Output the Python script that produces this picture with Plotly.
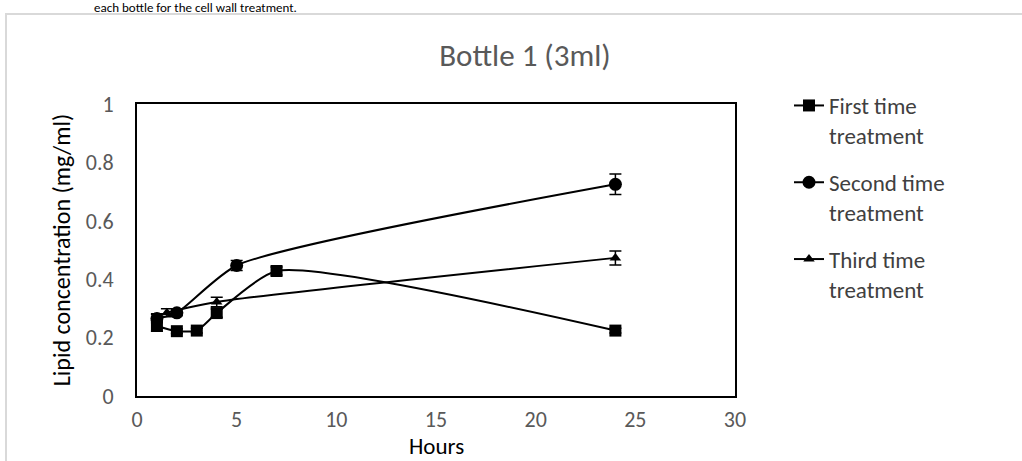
import plotly.graph_objects as go

# Lipid concentration (mg/ml) over time (hours), three treatment rounds
first_hours = [1, 2, 3, 4, 7, 24]
first_lipid = [0.24, 0.222, 0.224, 0.284, 0.428, 0.224]
first_err = [0.018, 0.008, 0.008, 0.014, 0.014, 0.008]

second_hours = [1, 2, 5, 24]
second_lipid = [0.265, 0.285, 0.447, 0.725]
second_err = [0.014, 0.01, 0.017, 0.035]

third_hours = [1, 1.5, 4, 24]
third_lipid = [0.27, 0.285, 0.322, 0.473]
third_err = [0.012, 0.014, 0.016, 0.024]

series_names = ["First time<br>treatment", "Second time<br>treatment", "Third time<br>treatment"]

FONT = "Carlito, Lato, 'Open Sans', sans-serif"

fig = go.Figure()

def add_series(x, y, err, name, symbol, size, group):
    fig.add_trace(go.Scatter(
        x=x, y=y, name=name, mode="lines+markers",
        line=dict(color="black", width=2, shape="spline", smoothing=0.6),
        marker=dict(symbol=symbol, size=size, color="black"),
        error_y=dict(type="data", array=err, visible=True, color="black",
                     thickness=1.5, width=6),
        legendgroup=group,
    ))

add_series(first_hours, first_lipid, first_err, series_names[0], "square", 12, "a")
add_series(second_hours, second_lipid, second_err, series_names[1], "circle", 13, "b")
add_series(third_hours, third_lipid, third_err, series_names[2], "triangle-up", 10, "c")

# caption line above the chart frame
fig.add_annotation(
    text="each bottle for the cell wall treatment.", xref="paper", yref="paper",
    x=(298 - 137) / 598, y=1.0, xanchor="right", yanchor="top", yshift=104 + 1,
    borderpad=0, showarrow=False, font=dict(family=FONT, size=13, color="black"))

# x-axis title placed below the tick labels
fig.add_annotation(
    text="Hours", xref="paper", yref="paper", x=0.5, y=0, yanchor="middle",
    yshift=-50, showarrow=False, font=dict(family=FONT, size=23, color="black"))

# outer frame
fig.add_shape(type="rect", xref="paper", yref="paper",
              x0=(6 - 137) / 598, x1=1.6, y0=-0.4, y1=1 + (104 - 14) / 292,
              line=dict(color="#d9d9d9", width=2))

fig.update_layout(
    width=1022, height=461,
    margin=dict(l=137, r=287, t=104, b=65, autoexpand=False),
    paper_bgcolor="white", plot_bgcolor="white",
    font=dict(family=FONT, color="#595959", size=22),
    title=dict(text="Bottle 1 (3ml)", x=525 / 1022, xanchor="center",
               y=1 - 55 / 461, yanchor="middle", automargin=False,
               font=dict(family=FONT, size=31, color="#595959")),
    showlegend=True,
    legend=dict(x=(789 - 137) / 598, y=1 + (104 - 84) / 292, xanchor="left", yanchor="top",
                valign="top",
                font=dict(family=FONT, size=23, color="#404040"),
                tracegroupgap=14, bgcolor="rgba(0,0,0,0)"),
    xaxis=dict(range=[0, 30], tickvals=[0, 5, 10, 15, 20, 25, 30],
               showgrid=False, zeroline=False, showline=True, mirror=True,
               linecolor="black", linewidth=2, ticks="", automargin=False,
               ticklabelstandoff=3,
               tickfont=dict(size=22, color="#595959")),
    yaxis=dict(range=[0, 1], tickvals=[0, 0.2, 0.4, 0.6, 0.8, 1],
               ticktext=["0", "0.2", "0.4", "0.6", "0.8", "1"],
               showgrid=False, zeroline=False, showline=True, mirror=True,
               linecolor="black", linewidth=2, ticks="", automargin=False,
               ticklabelstandoff=17,
               tickfont=dict(size=22, color="#595959"),
               title=dict(text="Lipid concentration (mg/ml)", font=dict(size=24, color="black"),
                          standoff=8)),
)

fig.write_html("out.html")
